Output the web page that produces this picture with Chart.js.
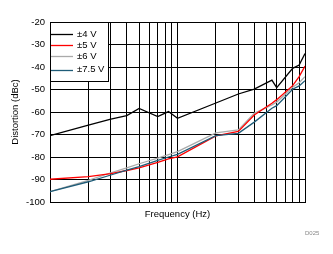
<!DOCTYPE html>
<html>
<head>
<meta charset="utf-8">
<script src="https://cdn.jsdelivr.net/npm/chart.js@4/dist/chart.umd.min.js"></script>
<style>
  html, body { margin: 0; padding: 0; background: #fff; }
  canvas { display: block; }
</style>
</head>
<body>
<canvas id="chart" width="333" height="254"></canvas>
<script>
// frequency points (Hz) shared by all curves
const freqs = [10, 20, 30, 40, 50, 70, 85, 100, 200, 300, 400, 550, 600, 800, 900, 1000];

// distortion (dBc) per supply
const dist4V = [-70.5, -65.8, -63.2, -61.6, -58.4, -62.0, -59.8, -62.8, -56.0, -52.0, -49.8, -45.8, -49.2, -40.6, -39.1, -34.0];
const dist5V = [-89.9, -88.7, -87.4, -86.0, -84.8, -82.4, -80.8, -79.9, -70.6, -68.6, -61.3, -56.1, -54.5, -48.3, -44.3, -39.6];
const dist6V = [-95.4, -90.4, -87.0, -84.8, -83.0, -80.5, -78.9, -77.6, -69.3, -68.0, -60.6, -56.8, -55.6, -49.0, -47.0, -44.3];
const dist75V = [-95.4, -91.0, -88.0, -85.8, -84.3, -81.5, -80.0, -78.8, -70.5, -69.5, -64.5, -58.3, -57.2, -49.9, -48.4, -46.1];

const seriesLabels = ["\u00b14 V", "\u00b15 V", "\u00b16 V", "\u00b17.5 V"];
const seriesColors = ["#000000", "#ff0000", "#aaaaaa", "#1f5c78"];

// x grid: 1..10 per decade
const xGrid = [10, 20, 30, 40, 50, 60, 70, 80, 90, 100, 200, 300, 400, 500, 600, 700, 800, 900, 1000];

const FONT = "'Liberation Sans', Arial, sans-serif";

function pts(vals) {
  return freqs.map((f, i) => ({ x: f, y: vals[i] }));
}

const legendBox = {
  id: "legendBox",
  afterDatasetsDraw(chart) {
    const ctx = chart.ctx;
    const a = chart.chartArea;
    const x0 = a.left, y0 = a.top;
    ctx.save();
    ctx.fillStyle = "#fff";
    ctx.fillRect(x0, y0, 58, 60);
    ctx.strokeStyle = "#000";
    ctx.lineWidth = 1;
    ctx.strokeRect(x0 + 0.5, y0 + 0.5, 58, 59);
    const rows = [12, 23, 34, 47.5];
    ctx.font = "9.5px " + FONT;
    ctx.textBaseline = "middle";
    seriesLabels.forEach((lab, i) => {
      const y = Math.round(y0 + rows[i]) + 0.5;
      ctx.strokeStyle = seriesColors[i];
      ctx.lineWidth = 1.3;
      ctx.beginPath();
      ctx.moveTo(x0 + 1, y);
      ctx.lineTo(x0 + 23, y);
      ctx.stroke();
      ctx.fillStyle = "#000";
      ctx.fillText(lab, x0 + 27, y0 + rows[i]);
    });
    // figure code
    ctx.font = "6px " + FONT;
    ctx.fillStyle = "#888";
    ctx.textAlign = "left";
    ctx.fillText("D025", 305, 233);
    ctx.restore();
  }
};

new Chart(document.getElementById("chart"), {
  type: "line",
  data: {
    datasets: [
      { label: seriesLabels[0], data: pts(dist4V), borderColor: seriesColors[0], order: 0 },
      { label: seriesLabels[1], data: pts(dist5V), borderColor: seriesColors[1], order: 1 },
      { label: seriesLabels[2], data: pts(dist6V), borderColor: seriesColors[2], order: 2 },
      { label: seriesLabels[3], data: pts(dist75V), borderColor: seriesColors[3], order: 0 }
    ]
  },
  options: {
    responsive: false,
    animation: false,
    devicePixelRatio: 1,
    layout: { padding: { top: 22, right: 28, left: 0, bottom: 0 } },
    elements: {
      line: { borderWidth: 1.3, tension: 0, fill: false },
      point: { radius: 0 }
    },
    plugins: {
      legend: { display: false },
      tooltip: { enabled: false }
    },
    scales: {
      x: {
        type: "logarithmic",
        min: 10,
        max: 1000,
        afterBuildTicks(scale) {
          scale.ticks = xGrid.map(v => ({ value: v }));
        },
        afterFit(scale) { scale.height = 52; },
        ticks: { display: false },
        grid: { color: "#000", lineWidth: 1, drawTicks: false },
        border: { color: "#000", width: 1 },
        title: {
          display: true,
          text: "Frequency (Hz)",
          color: "#000",
          font: { family: FONT, size: 9.5 },
          padding: { top: 0, bottom: 34 }
        }
      },
      y: {
        min: -100,
        max: -20,
        afterFit(scale) { scale.width = 50; },
        ticks: {
          stepSize: 10,
          padding: 5,
          color: "#000",
          font: { family: FONT, size: 9.5 }
        },
        grid: { color: "#000", lineWidth: 1, drawTicks: false },
        border: { color: "#000", width: 1 },
        title: {
          display: true,
          text: "Distortion (dBc)",
          color: "#000",
          font: { family: FONT, size: 9.5 },
          padding: { top: 10, bottom: 0 }
        }
      }
    }
  },
  plugins: [legendBox]
});
</script>
</body>
</html>
